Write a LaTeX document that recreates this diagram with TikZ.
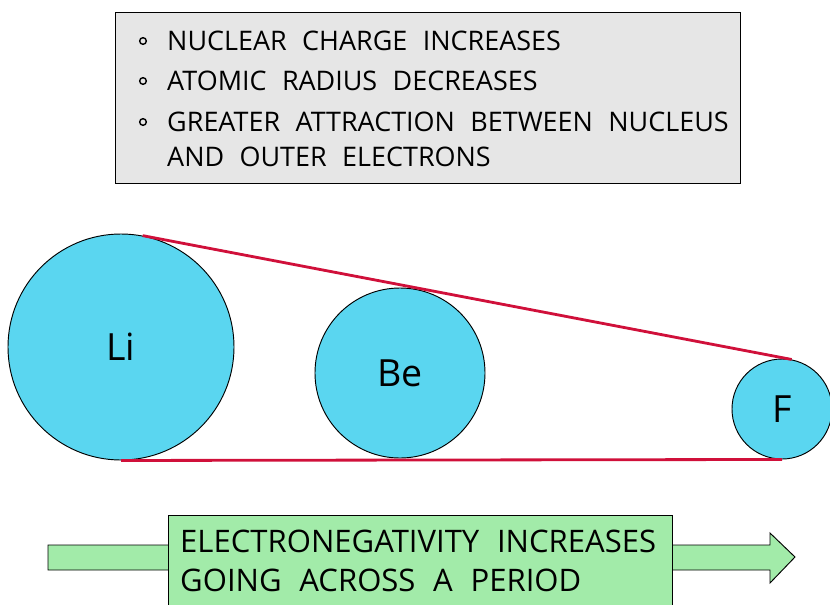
\documentclass[tikz,border=0pt]{standalone}
\usepackage{fontspec}
\setmainfont[WordSpace=2.2]{Open Sans}
\usetikzlibrary{positioning}
\definecolor{atomblue}{HTML}{5AD6F0}
\definecolor{trendred}{HTML}{D0103A}
\definecolor{notegray}{HTML}{E6E6E6}
\definecolor{arrowgreen}{HTML}{A2EBA9}
\tikzset{
  notebox/.style={draw, thick, fill=notegray, minimum width=18.75cm, minimum height=5.13cm, anchor=north west, inner sep=0pt},
  noteline/.style={anchor=west, inner sep=0pt, font=\fontsize{23}{26}\selectfont},
  bulletdot/.style={circle, draw, line width=1.2pt, minimum size=2mm, inner sep=0pt},
  atom/.style={circle, draw, thick, fill=atomblue, inner sep=0pt, font=\fontsize{32}{36}\selectfont},
  trendline/.style={draw=trendred, line width=2.4pt},
  trendbox/.style={draw, thick, fill=arrowgreen, minimum width=15.12cm, minimum height=2.8cm, anchor=north west, inner sep=0pt},
  trendtext/.style={anchor=west, inner sep=0pt, font=\fontsize{26.5}{30}\selectfont}
}
\begin{document}
\begin{tikzpicture}[x=0.03cm, y=-0.03cm]
\useasboundingbox (0,0) rectangle (830,604);
% summary box
\node[notebox] (note) at (115,12) {};
\node[bulletdot] (b1) at (143,41) {};
\node[bulletdot] (b2) at (143,81) {};
\node[bulletdot] (b3) at (143,122) {};
\node[noteline] (t1) at (167,41) {NUCLEAR CHARGE INCREASES};
\node[noteline] (t2) at (167,81) {ATOMIC RADIUS DECREASES};
\node[noteline] (t3) at (167,122) {GREATER ATTRACTION BETWEEN NUCLEUS};
\node[noteline] (t4) at (167,157) {AND OUTER ELECTRONS};
% atoms
\node[atom, minimum size=6.78cm] (li) at (121,347) {Li};
\node[atom, minimum size=5.1cm] (be) at (400,373) {Be};
\node[atom, minimum size=3.0cm] (f) at (782,409) {F};
\draw[trendline] (li.79) -- (f.79);
\draw[trendline] (li.south) -- (f.south);
% trend arrow
\coordinate (tail) at (48,557);
\coordinate (tip) at (795,557);
\fill[arrowgreen, draw=black, thick] (48,545) -- (770,545) -- (770,533) -- (tip) -- (770,583) -- (770,570) -- (48,570) -- cycle;
\node[trendbox] (trend) at (168,515) {};
\node[trendtext] (e1) at (180,541) {ELECTRONEGATIVITY INCREASES};
\node[trendtext] (e2) at (180,580) {GOING ACROSS A PERIOD};
\end{tikzpicture}
\end{document}
